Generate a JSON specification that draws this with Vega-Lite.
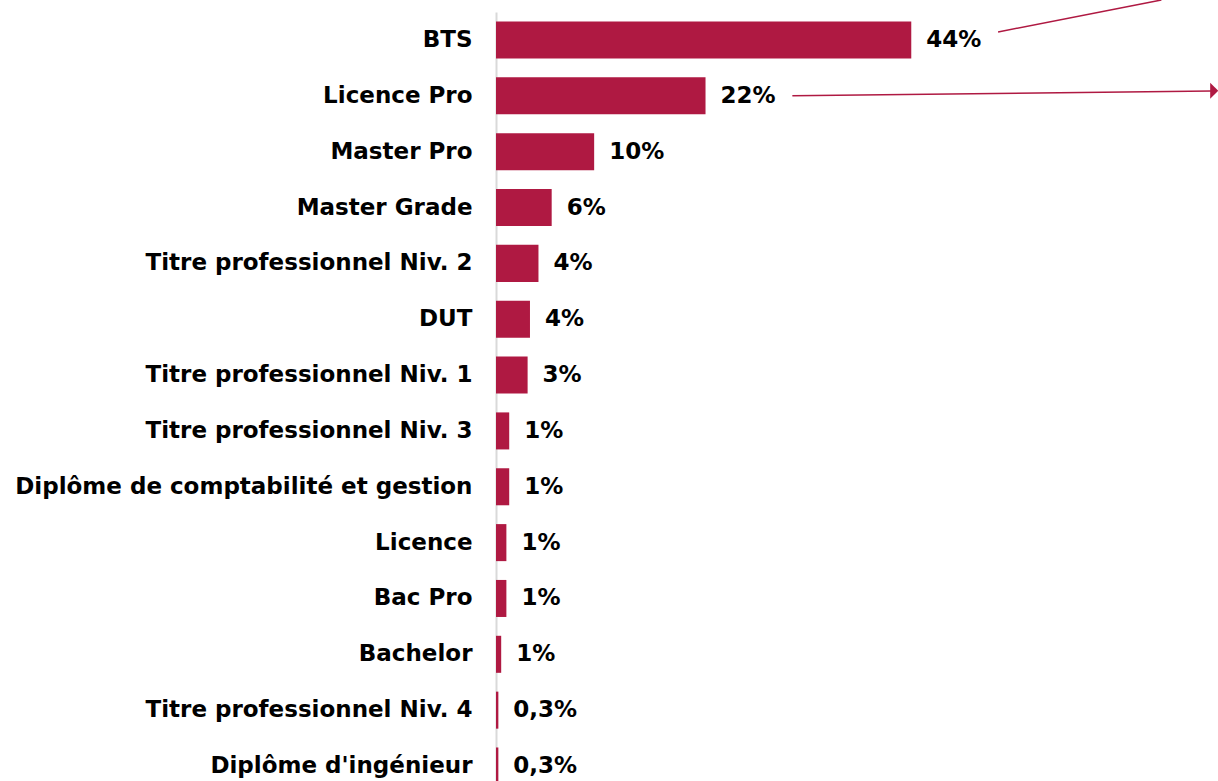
{
  "$schema": "https://vega.github.io/schema/vega-lite/v6.json",
  "width": 722,
  "height": 782,
  "autosize": {"type": "none"},
  "padding": {"left": 496, "top": 12, "right": 0, "bottom": 0},
  "background": "white",
  "config": {
    "view": {"stroke": null},
    "font": "DejaVu Sans"
  },
  "datasets": {
    "bars": [
      {"diplome": "BTS", "value": 44, "label": "44%"},
      {"diplome": "Licence Pro", "value": 22.2, "label": "22%"},
      {"diplome": "Master Pro", "value": 10.4, "label": "10%"},
      {"diplome": "Master Grade", "value": 5.9, "label": "6%"},
      {"diplome": "Titre professionnel Niv. 2", "value": 4.5, "label": "4%"},
      {"diplome": "DUT", "value": 3.6, "label": "4%"},
      {"diplome": "Titre professionnel Niv. 1", "value": 3.35, "label": "3%"},
      {"diplome": "Titre professionnel Niv. 3", "value": 1.4, "label": "1%"},
      {"diplome": "Diplôme de comptabilité et gestion", "value": 1.4, "label": "1%"},
      {"diplome": "Licence", "value": 1.1, "label": "1%"},
      {"diplome": "Bac Pro", "value": 1.1, "label": "1%"},
      {"diplome": "Bachelor", "value": 0.55, "label": "1%"},
      {"diplome": "Titre professionnel Niv. 4", "value": 0.25, "label": "0,3%"},
      {"diplome": "Diplôme d'ingénieur", "value": 0.25, "label": "0,3%"}
    ],
    "arrows": [
      {"x": 53.2, "y": 0.358, "x2": 70.5, "y2": -0.215},
      {"x": 31.4, "y": 1.5, "x2": 75.8, "y2": 1.414}
    ],
    "heads": [
      {"x": 76.1, "y": 1.41}
    ]
  },
  "layer": [
    {
      "data": {"name": "bars"},
      "encoding": {
        "y": {
          "field": "diplome",
          "type": "nominal",
          "sort": null,
          "scale": {"paddingInner": 0.337, "paddingOuter": 0.17},
          "axis": {
            "title": null,
            "ticks": false,
            "domainColor": "#d9d9d9",
            "domainWidth": 2,
            "labelFont": "DejaVu Sans",
            "labelFontWeight": "bold",
            "labelFontSize": 23,
            "labelColor": "#000000",
            "labelPadding": 24,
            "labelLimit": 700
          }
        },
        "x": {
          "field": "value",
          "type": "quantitative",
          "scale": {"domain": [0, 76.5], "nice": false, "zero": true},
          "axis": null
        }
      },
      "layer": [
        {"mark": {"type": "bar", "color": "#AF1942"}},
        {
          "mark": {
            "type": "text",
            "align": "left",
            "baseline": "middle",
            "dx": 15,
            "font": "DejaVu Sans",
            "fontWeight": "bold",
            "fontSize": 23,
            "color": "#000000"
          },
          "encoding": {"text": {"field": "label"}}
        }
      ]
    },
    {
      "data": {"name": "arrows"},
      "mark": {"type": "rule", "color": "#AF1942", "strokeWidth": 1.5},
      "encoding": {
        "x": {"field": "x", "type": "quantitative", "scale": {"domain": [0, 76.5], "nice": false}, "axis": null},
        "x2": {"field": "x2"},
        "y": {"field": "y", "type": "quantitative", "scale": {"domain": [0, 14], "nice": false, "zero": false, "reverse": true}, "axis": null},
        "y2": {"field": "y2"}
      }
    },
    {
      "data": {"name": "heads"},
      "mark": {"type": "point", "shape": "M -0.5 -1 L 0.5 0 L -0.5 1 Z", "filled": true, "color": "#AF1942", "size": 260, "opacity": 1, "strokeWidth": 0},
      "encoding": {
        "x": {"field": "x", "type": "quantitative", "scale": {"domain": [0, 76.5], "nice": false}, "axis": null},
        "y": {"field": "y", "type": "quantitative", "scale": {"domain": [0, 14], "nice": false, "zero": false, "reverse": true}, "axis": null}
      }
    }
  ],
  "resolve": {"scale": {"y": "independent"}, "axis": {"y": "independent"}}
}
